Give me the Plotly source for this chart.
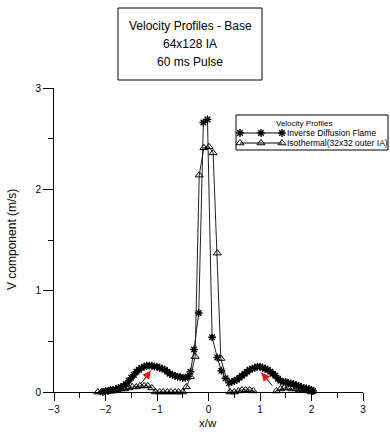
import plotly.graph_objects as go

# ---- data ----
flame_x = [-2.05, -2.00, -1.95, -1.90, -1.85, -1.80, -1.75, -1.70, -1.65, -1.60,
           -1.55, -1.50, -1.45, -1.40, -1.35, -1.30, -1.25, -1.20, -1.15, -1.10,
           -1.05, -1.00, -0.95, -0.90, -0.85, -0.80, -0.75, -0.70, -0.65, -0.60,
           -0.55, -0.50, -0.45, -0.40, -0.35, -0.28, -0.19, -0.10, -0.02, 0.07,
           0.17, 0.25, 0.33, 0.40, 0.45, 0.50, 0.55, 0.60, 0.65, 0.70,
           0.75, 0.80, 0.85, 0.90, 0.95, 1.00, 1.05, 1.10, 1.15, 1.20,
           1.25, 1.30, 1.35, 1.40, 1.45, 1.50, 1.55, 1.60, 1.65, 1.70,
           1.75, 1.80, 1.85, 1.90, 1.95, 2.00, 2.03]
flame_v = [0.00, 0.01, 0.01, 0.02, 0.02, 0.03, 0.04, 0.05, 0.06, 0.08,
           0.11, 0.14, 0.17, 0.20, 0.22, 0.24, 0.25, 0.26, 0.26, 0.26,
           0.25, 0.25, 0.24, 0.23, 0.22, 0.20, 0.18, 0.17, 0.16, 0.15,
           0.15, 0.14, 0.14, 0.15, 0.20, 0.42, 0.78, 2.66, 2.69, 0.54,
           0.34, 0.21, 0.135, 0.09, 0.10, 0.11, 0.12, 0.14, 0.16, 0.18,
           0.20, 0.22, 0.23, 0.24, 0.25, 0.25, 0.24, 0.23, 0.22, 0.20,
           0.18, 0.16, 0.13, 0.11, 0.10, 0.10, 0.09, 0.085, 0.08, 0.07,
           0.06, 0.05, 0.04, 0.035, 0.03, 0.02, 0.01]

iso_x = [-2.15, -2.08, -2.00, -1.93, -1.85, -1.78, -1.70, -1.63, -1.55, -1.48,
         -1.40, -1.33, -1.25, -1.18, -1.10, -1.03, -0.95, -0.88, -0.80, -0.73,
         -0.65, -0.58, -0.50, -0.43, -0.35, -0.26, -0.18, -0.09, 0.01, 0.09,
         0.17, 0.24, 0.42, 0.50, 0.58, 0.65, 0.72, 0.80, 0.87, 0.95,
         1.02, 1.10, 1.17, 1.25, 1.32, 1.40, 1.47, 1.55, 1.62, 1.70,
         1.77, 1.85, 1.92, 2.00, 2.05]
iso_v = [0.00, 0.00, 0.005, 0.01, 0.01, 0.02, 0.03, 0.03, 0.04, 0.05,
         0.05, 0.06, 0.06, 0.06, 0.04, 0.00, 0.00, 0.00, 0.00, 0.00,
         0.00, 0.00, 0.00, 0.05, 0.15, 0.35, 2.14, 2.41, 2.42, 2.36,
         1.37, 0.33, 0.00, 0.00, 0.01, 0.02, 0.02, 0.02, 0.01, -0.01,
         -0.015, -0.015, -0.015, -0.01, 0.01, 0.03, 0.04, 0.04, 0.03, 0.03,
         0.02, 0.02, 0.01, 0.00, -0.01]

series_names = ["Inverse Diffusion Flame", "Isothermal(32x32 outer IA)"]
legend_title = "Velocity Profiles"
title_lines = ["Velocity Profiles - Base", "64x128 IA", "60 ms Pulse"]
x_ticks = [-3, -2, -1, 0, 1, 2, 3]
y_ticks = [0, 1, 2, 3]

# arrow annotations (head, tail) in data units
arrows = [((-1.12, 0.21), (-1.33, 0.07)), ((1.03, 0.19), (1.26, 0.05))]

FONT = "Liberation Sans, Arial, sans-serif"
W, H = 390, 434
L, R, T, B = 54, 27, 88, 42
PW, PH = W - L - R, H - T - B


def px(x):
    return (x - L) / PW


def py(y):
    return (H - B - y) / PH


fig = go.Figure()

flame_marker = dict(symbol="asterisk-open", size=6.5, color="black",
                    line=dict(color="black", width=1.4))
iso_marker = dict(symbol="triangle-up-open", size=7, color="black",
                  line=dict(color="black", width=1))

fig.add_trace(go.Scatter(x=flame_x, y=flame_v, mode="lines+markers",
                         name=series_names[0], line=dict(color="#222", width=1),
                         marker=flame_marker, cliponaxis=False, showlegend=False))
fig.add_trace(go.Scatter(x=iso_x, y=iso_v, mode="lines+markers",
                         name=series_names[1], line=dict(color="#222", width=1),
                         marker=iso_marker, cliponaxis=False, showlegend=False))

# legend samples on overlay axes (paper-like coordinates)
sample_x = [px(240), px(261), px(282)]
for i, mk in enumerate([flame_marker, iso_marker]):
    yy = py(133 + 10 * i)
    fig.add_trace(go.Scatter(x=sample_x, y=[yy] * 3, mode="lines+markers",
                             xaxis="x2", yaxis="y2", line=dict(color="black", width=1),
                             marker=mk, cliponaxis=False, showlegend=False,
                             hoverinfo="skip"))

shapes = [
    dict(type="rect", xref="paper", yref="paper", x0=px(118), x1=px(262),
         y0=py(80), y1=py(8), line=dict(color="black", width=1)),
    dict(type="rect", xref="paper", yref="paper", x0=px(236), x1=px(388),
         y0=py(150), y1=py(115), line=dict(color="black", width=1)),
]

annotations = []
for i, t in enumerate(title_lines):
    annotations.append(dict(text=t, xref="paper", yref="paper", x=px(190),
                            y=py(26 + 18 * i), showarrow=False, xanchor="center",
                            yanchor="middle", font=dict(family=FONT, size=12, color="black")))
annotations.append(dict(text=legend_title, xref="paper", yref="paper", x=px(304),
                        y=py(123), showarrow=False, xanchor="center", yanchor="middle",
                        font=dict(family=FONT, size=8, color="black")))
for i, n in enumerate(series_names):
    annotations.append(dict(text=n, xref="paper", yref="paper", x=px(285),
                            y=py(133 + 10 * i), showarrow=False, xanchor="left",
                            yanchor="middle", font=dict(family=FONT, size=8.5, color="black")))
# axis titles
annotations.append(dict(text="x/w", xref="paper", yref="paper", x=px(208), y=py(423),
                        showarrow=False, xanchor="center", yanchor="middle",
                        font=dict(family=FONT, size=11.5, color="black")))
annotations.append(dict(text="V component (m/s)", xref="paper", yref="paper", x=px(12),
                        y=py(240), showarrow=False, textangle=-90, xanchor="center",
                        yanchor="middle", font=dict(family=FONT, size=12, color="black")))
# arrows: black shaft + red head
for (hx, hy), (tx, ty) in arrows:
    annotations.append(dict(x=hx, y=hy, ax=tx, ay=ty, xref="x", yref="y",
                            axref="x", ayref="y", showarrow=True, arrowhead=0,
                            arrowwidth=1, arrowcolor="black", text=""))
    annotations.append(dict(x=hx, y=hy, ax=hx + (tx - hx) * 0.3, ay=hy + (ty - hy) * 0.3,
                            xref="x", yref="y", axref="x", ayref="y", showarrow=True,
                            arrowhead=2, arrowsize=1.1, arrowwidth=1.5, arrowcolor="red",
                            text=""))

fig.update_layout(
    width=W, height=H,
    margin=dict(l=L, r=R, t=T, b=B),
    paper_bgcolor="white", plot_bgcolor="white",
    font=dict(family=FONT, size=10, color="black"),
    shapes=shapes, annotations=annotations,
    xaxis=dict(range=[-3, 3], tickvals=x_ticks, ticks="outside", ticklen=8,
               tickwidth=1, tickcolor="black", showline=True, linecolor="black",
               linewidth=1, showgrid=False, zeroline=False,
               minor=dict(dtick=0.5, ticks="outside", ticklen=5, tickcolor="black",
                          showgrid=False),
               tickfont=dict(family=FONT, size=10), fixedrange=True),
    yaxis=dict(range=[0, 3], tickvals=y_ticks, ticks="outside", ticklen=10,
               tickwidth=1, tickcolor="black", showline=True, linecolor="black",
               linewidth=1, showgrid=False, zeroline=False,
               minor=dict(dtick=0.5, ticks="outside", ticklen=5, tickcolor="black",
                          showgrid=False),
               tickfont=dict(family=FONT, size=10), fixedrange=True),
    xaxis2=dict(overlaying="x", range=[0, 1], visible=False, fixedrange=True),
    yaxis2=dict(overlaying="y", range=[0, 1], visible=False, fixedrange=True),
)

fig.write_html("out.html", config={"displayModeBar": False},
               post_script="document.body.style.margin='0';document.body.style.overflow='hidden';")
